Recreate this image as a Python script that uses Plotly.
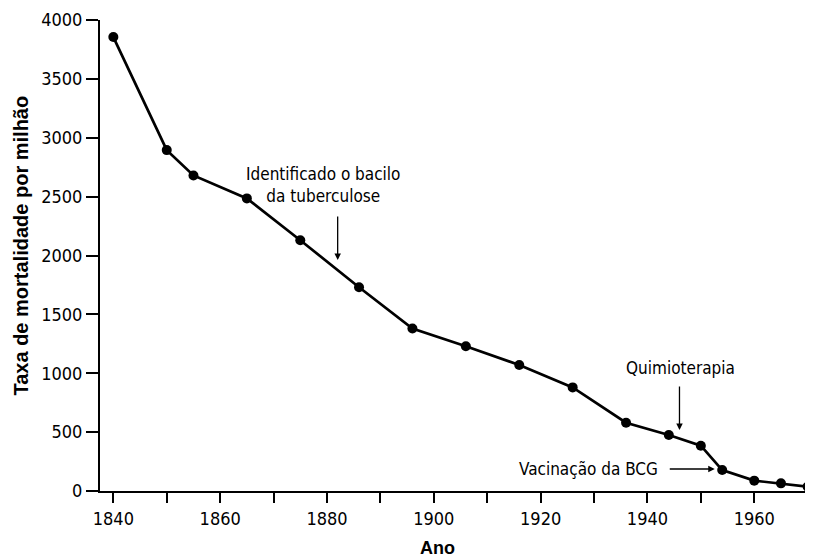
import plotly.graph_objects as go

years = [1840, 1850, 1855, 1865, 1875, 1886, 1896, 1906, 1916, 1926, 1936, 1944, 1950, 1954, 1960, 1965, 1970]
rates = [3855, 2895, 2680, 2485, 2130, 1730, 1380, 1230, 1070, 880, 580, 475, 385, 178, 88, 65, 37]

x_tickvals = [1840, 1850, 1860, 1870, 1880, 1890, 1900, 1910, 1920, 1930, 1940, 1950, 1960, 1970]
x_ticktext = ["1840", "", "1860", "", "1880", "", "1900", "", "1920", "", "1940", "", "1960", ""]
y_tickvals = [0, 500, 1000, 1500, 2000, 2500, 3000, 3500, 4000]

FONT = "DejaVu Sans Condensed, sans-serif"
BOLD = "Liberation Sans, Arial, sans-serif"

fig = go.Figure()
fig.add_trace(go.Scatter(
    x=years, y=rates, mode="lines+markers",
    line=dict(color="black", width=2.7),
    marker=dict(color="black", size=10),
    cliponaxis=False, showlegend=False,
))

# text labels
fig.add_annotation(x=1879.3, y=2600, xref="x", yref="y", showarrow=False,
                   text="Identificado o bacilo<br>da tuberculose",
                   font=dict(family=FONT, size=17, color="black"), align="center")
fig.add_annotation(x=1946.1, y=1045, xref="x", yref="y", showarrow=False,
                   text="Quimioterapia",
                   font=dict(family=FONT, size=17, color="black"))
fig.add_annotation(x=1942.4, y=187, xref="x", yref="y", showarrow=False,
                   text="Vacinação da BCG", xanchor="right",
                   font=dict(family=FONT, size=17, color="black"))

# arrows
arrow = dict(showarrow=True, text="", arrowhead=2, arrowsize=1, arrowwidth=1.3,
             arrowcolor="black", xref="x", yref="y", axref="x", ayref="y", standoff=0)
fig.add_annotation(x=1882, y=1962, ax=1882, ay=2344, **arrow)
fig.add_annotation(x=1946, y=518, ax=1946, ay=900, **arrow)
fig.add_annotation(x=1952.6, y=187, ax=1943.9, ay=187, **arrow)

# axis titles
fig.add_annotation(x=0.474, y=0, xref="paper", yref="paper", yshift=-57,
                   showarrow=False, text="<b>Ano</b>", yanchor="middle",
                   font=dict(family=BOLD, size=18, color="black"))
fig.add_annotation(x=0, y=0.5, xref="paper", yref="paper", xshift=-80, yshift=10,
                   showarrow=False, text="<b>Taxa de mortalidade por milhão</b>",
                   textangle=-90, xanchor="center", yanchor="middle",
                   font=dict(family=BOLD, size=20, color="black"))

fig.update_layout(
    width=813, height=558,
    margin=dict(l=92, r=8, t=12, b=75, autoexpand=False),
    paper_bgcolor="white", plot_bgcolor="white",
    font=dict(family=FONT, size=18, color="black"),
    xaxis=dict(range=[1837.5, 1971], tickvals=x_tickvals, ticktext=x_ticktext,
               showgrid=False, zeroline=False, showline=True, linecolor="black", linewidth=2,
               ticks="outside", ticklen=10, tickwidth=2, tickcolor="black",
               tickfont=dict(family=FONT, size=18)),
    yaxis=dict(range=[0, 4000], tickvals=y_tickvals,
               showgrid=False, zeroline=False, showline=True, linecolor="black", linewidth=2,
               ticks="outside", ticklen=12, tickwidth=2, tickcolor="black",
               tickfont=dict(family=FONT, size=18)),
)

fig.write_html("out.html")
